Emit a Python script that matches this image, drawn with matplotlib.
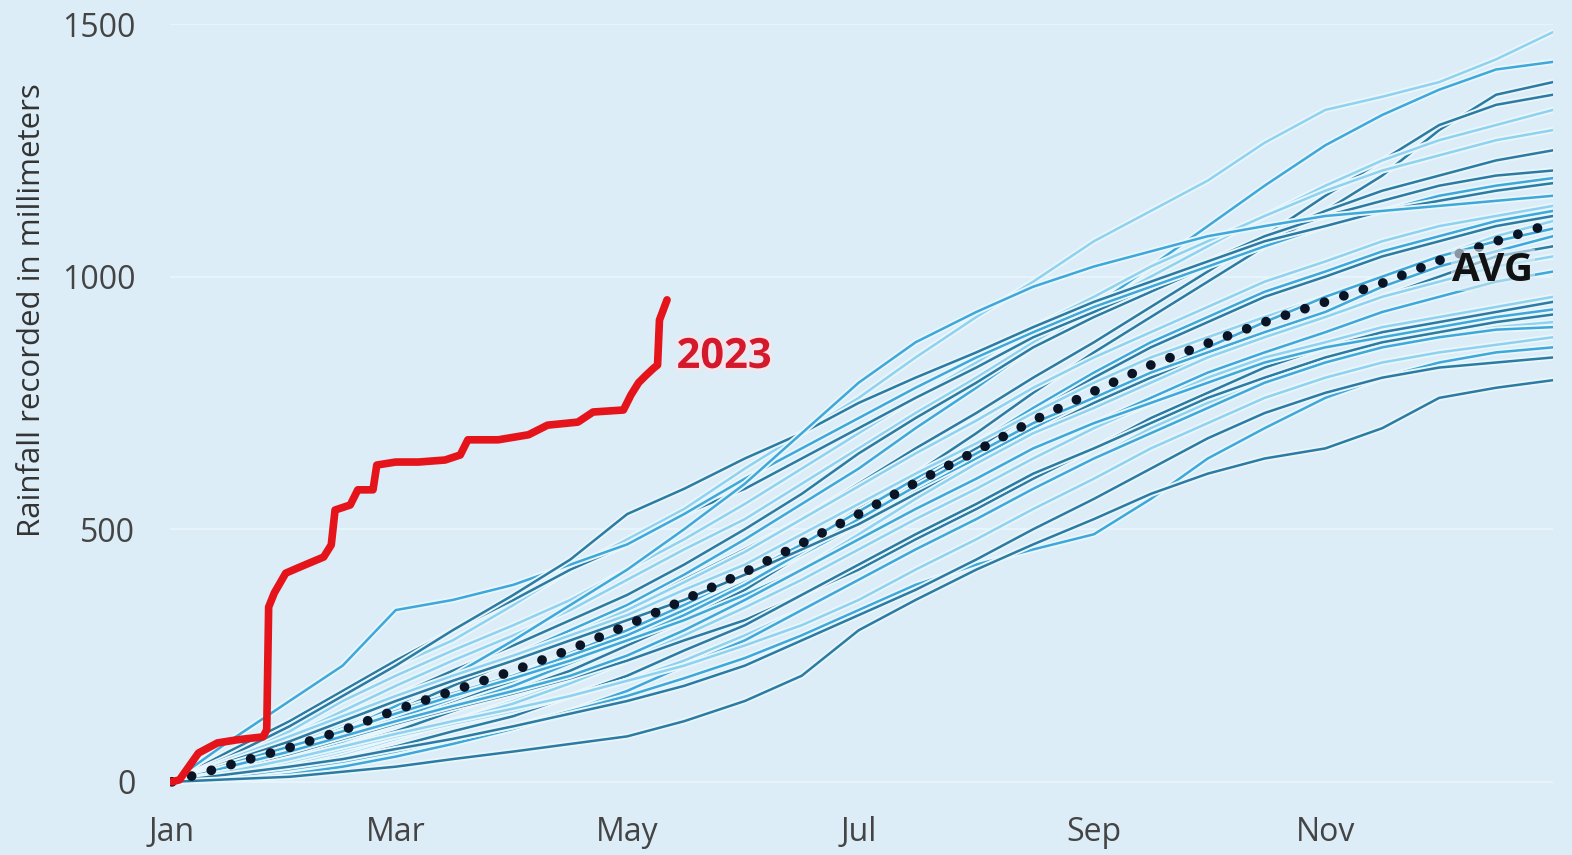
import matplotlib
matplotlib.use("Agg")
import matplotlib.pyplot as plt
import matplotlib.patheffects as pe

# day of year for each sampled point (twice a month)
days = [0, 15, 31, 45, 59, 74, 90, 105, 120, 135, 151, 166, 181,
        196, 212, 227, 243, 258, 273, 288, 304, 319, 334, 349, 364]

# cumulative rainfall of past years (mm)
years = [
    [0, 60, 120, 170, 230, 280, 350, 420, 480, 540, 620, 690, 760, 840, 920, 990, 1070, 1130, 1190, 1265, 1330, 1356, 1385, 1430, 1484],
    [0, 30, 70, 110, 150, 200, 250, 300, 350, 410, 480, 550, 620, 700, 780, 860, 940, 1020, 1100, 1180, 1260, 1320, 1370, 1410, 1425],
    [0, 20, 50, 80, 120, 160, 200, 250, 300, 350, 410, 470, 540, 610, 690, 770, 850, 920, 990, 1060, 1130, 1200, 1290, 1360, 1385],
    [0, 25, 60, 95, 140, 190, 240, 290, 340, 400, 460, 520, 590, 660, 730, 800, 870, 940, 1010, 1080, 1160, 1230, 1300, 1340, 1360],
    [0, 40, 90, 140, 190, 240, 290, 340, 400, 460, 520, 590, 660, 730, 800, 870, 940, 1000, 1060, 1120, 1180, 1230, 1270, 1300, 1330],
    [0, 50, 100, 160, 210, 260, 310, 360, 420, 480, 550, 620, 690, 760, 830, 900, 960, 1020, 1070, 1120, 1170, 1210, 1240, 1270, 1290],
    [0, 30, 80, 120, 170, 220, 270, 320, 370, 430, 500, 570, 650, 720, 790, 860, 920, 970, 1020, 1080, 1130, 1170, 1200, 1230, 1250],
    [0, 60, 120, 180, 240, 300, 360, 420, 470, 530, 580, 640, 700, 760, 820, 880, 930, 980, 1030, 1080, 1120, 1150, 1180, 1200, 1210],
    [0, 80, 160, 230, 340, 360, 390, 430, 470, 530, 600, 660, 720, 780, 840, 890, 940, 980, 1020, 1060, 1100, 1130, 1160, 1180, 1195],
    [0, 50, 110, 170, 230, 300, 370, 440, 530, 580, 640, 690, 750, 800, 850, 900, 950, 990, 1030, 1070, 1100, 1130, 1150, 1170, 1185],
    [0, 20, 60, 100, 150, 210, 280, 350, 420, 500, 590, 690, 790, 870, 930, 980, 1020, 1050, 1080, 1100, 1120, 1130, 1140, 1150, 1160],
    [0, 35, 75, 115, 160, 200, 245, 290, 340, 395, 455, 520, 585, 650, 715, 780, 840, 890, 940, 990, 1030, 1070, 1100, 1120, 1140],
    [0, 25, 55, 90, 125, 165, 210, 255, 300, 350, 410, 470, 535, 600, 670, 740, 810, 870, 920, 970, 1010, 1050, 1080, 1110, 1130],
    [0, 15, 40, 70, 100, 140, 180, 220, 270, 320, 380, 450, 520, 590, 660, 730, 800, 860, 910, 960, 1000, 1040, 1070, 1100, 1120],
    [0, 45, 90, 130, 170, 210, 250, 290, 330, 380, 430, 490, 550, 610, 670, 730, 790, 840, 880, 920, 960, 1000, 1040, 1080, 1110],
    [0, 30, 65, 100, 140, 175, 210, 250, 290, 340, 395, 450, 510, 575, 640, 700, 760, 810, 860, 910, 960, 1000, 1040, 1070, 1095],
    [0, 20, 50, 80, 115, 150, 190, 235, 280, 330, 390, 455, 520, 585, 650, 710, 760, 810, 850, 890, 930, 980, 1020, 1050, 1080],
    [0, 40, 80, 120, 160, 200, 240, 280, 320, 360, 410, 460, 510, 570, 630, 690, 750, 800, 840, 880, 920, 960, 1000, 1040, 1060],
    [0, 10, 30, 55, 85, 120, 160, 200, 250, 300, 360, 420, 490, 560, 630, 690, 740, 790, 840, 880, 920, 960, 990, 1020, 1040],
    [0, 35, 70, 100, 135, 170, 205, 240, 280, 320, 370, 420, 480, 540, 600, 660, 710, 760, 810, 850, 890, 930, 960, 990, 1010],
    [0, 15, 35, 60, 90, 120, 155, 195, 240, 290, 345, 400, 460, 520, 580, 640, 700, 750, 800, 840, 870, 900, 920, 940, 960],
    [0, 25, 55, 85, 115, 145, 175, 205, 240, 280, 320, 370, 420, 480, 540, 600, 660, 720, 770, 820, 860, 890, 910, 930, 950],
    [0, 30, 60, 90, 120, 150, 180, 210, 250, 300, 360, 420, 480, 540, 600, 660, 710, 750, 790, 830, 860, 880, 900, 920, 935],
    [0, 10, 25, 45, 70, 100, 130, 170, 210, 260, 310, 370, 430, 490, 550, 610, 660, 710, 760, 800, 840, 870, 890, 910, 925],
    [0, 20, 40, 65, 90, 115, 140, 170, 200, 240, 290, 340, 400, 460, 520, 580, 640, 700, 750, 790, 830, 860, 880, 900, 910],
    [0, 5, 15, 30, 50, 75, 105, 140, 180, 230, 280, 340, 400, 460, 520, 580, 640, 690, 740, 790, 830, 860, 880, 895, 900],
    [0, 20, 45, 70, 95, 120, 145, 170, 200, 230, 270, 310, 360, 420, 480, 540, 600, 660, 710, 760, 800, 830, 850, 865, 880],
    [0, 10, 25, 40, 60, 85, 110, 140, 170, 205, 245, 290, 340, 390, 430, 460, 490, 560, 640, 700, 760, 800, 830, 850, 860],
    [0, 15, 30, 45, 65, 85, 110, 135, 160, 190, 230, 280, 330, 380, 440, 500, 560, 620, 680, 730, 770, 800, 820, 830, 840],
    [0, 5, 10, 20, 30, 45, 60, 75, 90, 120, 160, 210, 300, 360, 420, 470, 520, 570, 610, 640, 660, 700, 760, 780, 795],
]
year_shade = ["light", "mid", "dark", "dark", "light", "light", "dark", "dark", "mid", "dark",
              "mid", "light", "mid", "dark", "light", "mid", "mid", "dark", "light", "mid",
              "light", "dark", "mid", "dark", "light", "mid", "light", "mid", "dark", "dark"]

# long-term average (mm)
avg_vals = [0, 33, 68, 102, 142, 180, 220, 262, 310, 360, 415, 472, 530,
            592, 655, 715, 773, 825, 868, 910, 950, 987, 1032, 1070, 1106]

# 2023 so far
red_days = [0, 2, 7, 12, 17, 24, 25, 25.5, 27, 30, 34, 40, 42, 43, 47, 49, 53, 54, 59, 65,
            72, 76, 78, 86, 94, 99, 107, 111, 119, 121, 123, 125, 127, 128, 128.5, 130, 130.5]
red_vals = [0, 4, 57, 77, 83, 89, 103, 346, 374, 413, 426, 445, 469, 538, 548, 578, 578, 627, 633, 633,
            637, 647, 677, 677, 687, 706, 712, 732, 736, 766, 790, 805, 819, 825, 914, 944, 954]

month_days = [0, 59, 120, 181, 243, 304]
month_labels = ["Jan", "Mar", "May", "Jul", "Sep", "Nov"]

bg = "#dcedf7"
shades = {"light": "#8fd2f0", "mid": "#3ea8da", "dark": "#2b7ba3"}

plt.rcParams["font.family"] = ["Open Sans", "DejaVu Sans"]

fig = plt.figure(figsize=(15.72, 8.55), dpi=100, facecolor=bg)
ax = fig.add_axes([170 / 1572, (855 - 797) / 855, (1553 - 170) / 1572, (797 - 24) / 855])
ax.set_facecolor(bg)

# past years
for vals, shade in zip(years, year_shade):
    ax.plot(days, vals, color=shades[shade], lw=1.8,
            path_effects=[pe.Stroke(linewidth=4.5, foreground="#e9f6fc"), pe.Normal()])

# average
ax.plot(days, avg_vals, color="#0b1424", lw=7, linestyle=(0, (0.01, 2.1)),
        dash_capstyle="round", zorder=5)

# 2023
ax.plot(red_days, red_vals, color="#e5141b", lw=5.5, solid_joinstyle="round",
        solid_capstyle="round", zorder=6)

ax.text(133, 840, "2023", color="#d3192b", fontsize=30, fontweight="bold", va="center",
        ha="left", zorder=7, path_effects=[pe.withStroke(linewidth=4, foreground="#f3e6ec")])
ax.text(337.5, 1013, "AVG", color="#111111", fontsize=29, fontweight="bold", va="center",
        ha="left", zorder=7,
        bbox=dict(facecolor=bg, alpha=0.6, edgecolor="none", pad=1))

ax.set_xlim(-0.5, 364)
ax.set_ylim(-30, 1500)
ax.set_yticks([0, 500, 1000, 1500])
ax.set_xticks(month_days)
ax.set_xticklabels(month_labels)
ax.tick_params(axis="y", length=0, pad=25, labelsize=23, labelcolor="#444444")
ax.tick_params(axis="x", length=0, pad=14, labelsize=23, labelcolor="#444444")
ax.grid(axis="y", color="#e8f4fb", lw=1.5)
ax.set_axisbelow(True)
for s in ax.spines.values():
    s.set_visible(False)

fig.text(32 / 1572, (855 - 310) / 855, "Rainfall recorded in millimeters", rotation=90,
         fontsize=22.5, color="#333333", ha="center", va="center")

fig.savefig("out.png", dpi=100, facecolor=bg)
